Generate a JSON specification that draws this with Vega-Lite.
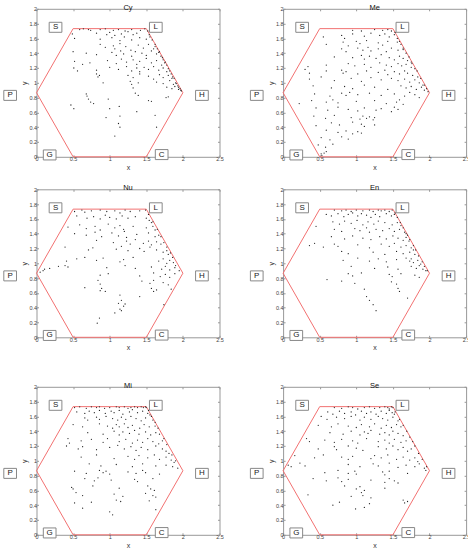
{
"$schema":"https://vega.github.io/schema/vega-lite/v6.json",
"autosize":{"type":"pad"},
"padding":{"left":0.5,"top":2.8,"right":2,"bottom":0},
"config":{
 "font":"Liberation Sans",
 "view":{"stroke":"#999","strokeWidth":1},
 "axis":{"labelFontSize":5.5,"labelColor":"#444","titleFontSize":7,"titleFontWeight":"normal","titleColor":"#333","tickColor":"#999","tickSize":-2,"labelPadding":2,"titlePadding":1,"grid":false,"domain":false,"labelFlush":false,"labelOverlap":false},
 "title":{"fontSize":7.5,"fontWeight":"normal","color":"#111","frame":"group","offset":-4.5,"baseline":"alphabetic"}
},
"datasets":{
"hex":[{"i":0,"x":0.5,"y":0},{"i":1,"x":1.5,"y":0},{"i":2,"x":2,"y":0.866},{"i":3,"x":1.5,"y":1.732},{"i":4,"x":0.5,"y":1.732},{"i":5,"x":0,"y":0.866},{"i":6,"x":0.5,"y":0}],
"lab":[{"t":"S","x":0.26,"y":1.75},{"t":"L","x":1.63,"y":1.75},{"t":"P","x":-0.36,"y":0.83},{"t":"H","x":2.26,"y":0.83},{"t":"G","x":0.18,"y":0.025},{"t":"C","x":1.71,"y":0.03}],
"cy":[{"x":0.59,"y":1.72},{"x":0.64,"y":1.73},{"x":0.71,"y":1.72},{"x":0.74,"y":1.71},{"x":0.87,"y":1.72},{"x":0.94,"y":1.73},{"x":1.05,"y":1.71},{"x":1.12,"y":1.72},{"x":1.21,"y":1.70},{"x":1.30,"y":1.72},{"x":1.42,"y":1.71},{"x":1.48,"y":1.73},
{"x":0.49,"y":1.66},{"x":0.82,"y":1.67},{"x":0.96,"y":1.65},{"x":1.0,"y":1.68},{"x":1.07,"y":1.64},{"x":1.16,"y":1.66},{"x":1.25,"y":1.69},{"x":1.32,"y":1.65},{"x":1.37,"y":1.67},
{"x":0.52,"y":1.60},{"x":0.87,"y":1.59},{"x":1.03,"y":1.61},{"x":1.14,"y":1.57},{"x":1.2,"y":1.62},{"x":1.3,"y":1.58},{"x":1.41,"y":1.61},{"x":1.5,"y":1.59},{"x":1.55,"y":1.62},
{"x":0.87,"y":1.52},{"x":0.94,"y":1.48},{"x":1.05,"y":1.5},{"x":1.07,"y":1.46},{"x":1.14,"y":1.53},{"x":1.22,"y":1.49},{"x":1.29,"y":1.44},{"x":1.39,"y":1.51},{"x":1.46,"y":1.47},{"x":1.53,"y":1.52},{"x":1.6,"y":1.46},{"x":1.62,"y":1.49},
{"x":0.5,"y":1.42},{"x":0.68,"y":1.4},{"x":0.82,"y":1.38},{"x":1.03,"y":1.41},{"x":1.09,"y":1.37},{"x":1.15,"y":1.43},{"x":1.19,"y":1.39},{"x":1.3,"y":1.36},{"x":1.35,"y":1.42},{"x":1.44,"y":1.4},{"x":1.5,"y":1.37},{"x":1.57,"y":1.43},{"x":1.64,"y":1.39},{"x":1.67,"y":1.41},{"x":1.7,"y":1.36},
{"x":0.52,"y":1.29},{"x":0.63,"y":1.25},{"x":0.73,"y":1.27},{"x":0.97,"y":1.3},{"x":1.09,"y":1.26},{"x":1.16,"y":1.32},{"x":1.23,"y":1.28},{"x":1.32,"y":1.31},{"x":1.37,"y":1.25},{"x":1.41,"y":1.29},{"x":1.5,"y":1.33},{"x":1.57,"y":1.27},{"x":1.64,"y":1.3},{"x":1.71,"y":1.24},{"x":1.73,"y":1.31},{"x":1.75,"y":1.27},
{"x":0.51,"y":1.2},{"x":0.56,"y":1.16},{"x":0.82,"y":1.17},{"x":1.0,"y":1.21},{"x":1.12,"y":1.18},{"x":1.23,"y":1.22},{"x":1.3,"y":1.16},{"x":1.37,"y":1.2},{"x":1.41,"y":1.15},{"x":1.47,"y":1.21},{"x":1.53,"y":1.18},{"x":1.6,"y":1.22},{"x":1.67,"y":1.17},{"x":1.73,"y":1.2},{"x":1.78,"y":1.15},{"x":1.8,"y":1.19},
{"x":0.82,"y":1.12},{"x":0.84,"y":1.08},{"x":0.86,"y":1.1},{"x":1.25,"y":1.1},{"x":1.32,"y":1.07},{"x":1.41,"y":1.12},{"x":1.53,"y":1.09},{"x":1.6,"y":1.05},{"x":1.68,"y":1.11},{"x":1.73,"y":1.07},{"x":1.8,"y":1.1},{"x":1.85,"y":1.06},{"x":1.86,"y":1.08},
{"x":0.91,"y":1.0},{"x":1.28,"y":1.02},{"x":1.3,"y":0.98},{"x":1.39,"y":1.0},{"x":1.64,"y":1.01},{"x":1.73,"y":0.99},{"x":1.82,"y":1.03},{"x":1.87,"y":0.98},{"x":1.9,"y":1.0},{"x":1.93,"y":0.96},
{"x":1.32,"y":0.93},{"x":1.78,"y":0.94},{"x":1.85,"y":0.92},{"x":1.89,"y":0.95},{"x":1.94,"y":0.91},{"x":1.97,"y":0.9},
{"x":0.68,"y":0.85},{"x":0.69,"y":0.82},{"x":1.35,"y":0.86},{"x":1.39,"y":0.83},{"x":1.77,"y":0.8},{"x":1.8,"y":0.81},
{"x":0.71,"y":0.78},{"x":0.74,"y":0.74},{"x":0.78,"y":0.72},{"x":0.98,"y":0.78},{"x":1.53,"y":0.76},{"x":1.57,"y":0.75},
{"x":0.47,"y":0.7},{"x":0.51,"y":0.65},{"x":1.0,"y":0.65},{"x":1.13,"y":0.68},{"x":1.37,"y":0.61},
{"x":0.95,"y":0.53},{"x":1.14,"y":0.55},{"x":1.62,"y":0.56},{"x":1.12,"y":0.45},{"x":1.14,"y":0.4},{"x":1.64,"y":0.4},{"x":1.07,"y":0.28},
{"x":1.52,"y":1.70},{"x":1.54,"y":1.65},{"x":1.58,"y":1.58},{"x":1.62,"y":1.52},{"x":1.65,"y":1.46},{"x":1.68,"y":1.42},{"x":1.72,"y":1.34},{"x":1.76,"y":1.28},{"x":1.78,"y":1.24},{"x":1.82,"y":1.16},{"x":1.84,"y":1.12},{"x":1.88,"y":1.06},{"x":1.91,"y":0.99},{"x":1.94,"y":0.94},{"x":1.96,"y":0.92},{"x":1.98,"y":0.89}],
"me":[{"x":0.95,"y":1.71},{"x":1.07,"y":1.70},{"x":1.25,"y":1.72},{"x":1.36,"y":1.71},{"x":1.43,"y":1.72},{"x":1.48,"y":1.70},
{"x":0.55,"y":1.62},{"x":0.8,"y":1.64},{"x":0.84,"y":1.60},{"x":0.95,"y":1.66},{"x":1.11,"y":1.63},{"x":1.2,"y":1.67},{"x":1.32,"y":1.64},{"x":1.39,"y":1.66},{"x":1.45,"y":1.62},{"x":1.52,"y":1.65},{"x":1.56,"y":1.6},
{"x":0.59,"y":1.52},{"x":0.82,"y":1.55},{"x":0.89,"y":1.5},{"x":1.0,"y":1.56},{"x":1.05,"y":1.53},{"x":1.14,"y":1.57},{"x":1.3,"y":1.54},{"x":1.36,"y":1.51},{"x":1.43,"y":1.56},{"x":1.56,"y":1.55},{"x":1.61,"y":1.52},
{"x":0.8,"y":1.46},{"x":0.86,"y":1.42},{"x":1.02,"y":1.47},{"x":1.09,"y":1.44},{"x":1.16,"y":1.48},{"x":1.2,"y":1.43},{"x":1.3,"y":1.46},{"x":1.41,"y":1.42},{"x":1.48,"y":1.47},{"x":1.57,"y":1.44},{"x":1.64,"y":1.45},{"x":1.68,"y":1.40},
{"x":0.7,"y":1.35},{"x":0.95,"y":1.34},{"x":1.07,"y":1.37},{"x":1.11,"y":1.32},{"x":1.18,"y":1.36},{"x":1.27,"y":1.33},{"x":1.34,"y":1.38},{"x":1.45,"y":1.34},{"x":1.52,"y":1.31},{"x":1.59,"y":1.36},{"x":1.64,"y":1.33},{"x":1.7,"y":1.3},{"x":1.75,"y":1.28},
{"x":0.34,"y":1.22},{"x":0.59,"y":1.24},{"x":0.89,"y":1.26},{"x":0.98,"y":1.23},{"x":1.11,"y":1.25},{"x":1.2,"y":1.21},{"x":1.32,"y":1.27},{"x":1.41,"y":1.24},{"x":1.48,"y":1.22},{"x":1.57,"y":1.26},{"x":1.62,"y":1.23},{"x":1.68,"y":1.25},{"x":1.75,"y":1.21},{"x":1.8,"y":1.19},
{"x":0.3,"y":1.18},{"x":0.36,"y":1.13},{"x":0.59,"y":1.16},{"x":0.8,"y":1.17},{"x":0.82,"y":1.13},{"x":0.86,"y":1.15},{"x":1.02,"y":1.12},{"x":1.14,"y":1.16},{"x":1.3,"y":1.14},{"x":1.39,"y":1.17},{"x":1.43,"y":1.11},{"x":1.52,"y":1.15},{"x":1.59,"y":1.12},{"x":1.66,"y":1.16},{"x":1.7,"y":1.13},{"x":1.77,"y":1.1},{"x":1.84,"y":1.08},
{"x":0.36,"y":1.05},{"x":0.52,"y":1.08},{"x":0.7,"y":1.03},{"x":0.93,"y":1.06},{"x":1.07,"y":1.02},{"x":1.2,"y":1.07},{"x":1.34,"y":1.04},{"x":1.48,"y":1.06},{"x":1.57,"y":1.03},{"x":1.66,"y":1.05},{"x":1.73,"y":1.01},{"x":1.8,"y":1.04},{"x":1.86,"y":1.0},{"x":1.91,"y":0.97},
{"x":0.41,"y":0.96},{"x":0.66,"y":0.93},{"x":0.84,"y":0.95},{"x":0.95,"y":0.92},{"x":1.11,"y":0.97},{"x":1.25,"y":0.94},{"x":1.43,"y":0.91},{"x":1.61,"y":0.96},{"x":1.68,"y":0.93},{"x":1.75,"y":0.95},{"x":1.82,"y":0.91},{"x":1.89,"y":0.94},{"x":1.93,"y":0.9},{"x":1.98,"y":0.88},
{"x":0.43,"y":0.85},{"x":0.64,"y":0.82},{"x":0.8,"y":0.86},{"x":0.86,"y":0.83},{"x":0.91,"y":0.87},{"x":1.02,"y":0.84},{"x":1.18,"y":0.86},{"x":1.34,"y":0.83},{"x":1.52,"y":0.85},{"x":1.66,"y":0.82},{"x":1.73,"y":0.87},{"x":1.8,"y":0.84},{"x":1.86,"y":0.8},
{"x":0.22,"y":0.72},{"x":0.39,"y":0.76},{"x":0.59,"y":0.74},{"x":0.68,"y":0.77},{"x":0.75,"y":0.73},{"x":1.0,"y":0.75},{"x":1.25,"y":0.76},{"x":1.41,"y":0.72},{"x":1.55,"y":0.74},{"x":1.59,"y":0.77},{"x":1.64,"y":0.71},
{"x":0.45,"y":0.66},{"x":0.61,"y":0.63},{"x":0.75,"y":0.67},{"x":0.89,"y":0.64},{"x":1.02,"y":0.62},{"x":1.11,"y":0.66},{"x":1.27,"y":0.63},{"x":1.34,"y":0.65},{"x":1.48,"y":0.61},{"x":1.52,"y":0.67},{"x":1.57,"y":0.64},
{"x":0.42,"y":0.55},{"x":0.58,"y":0.52},{"x":0.7,"y":0.56},{"x":0.93,"y":0.53},{"x":1.05,"y":0.51},{"x":1.09,"y":0.55},{"x":1.14,"y":0.52},{"x":1.18,"y":0.54},{"x":1.23,"y":0.5},{"x":1.25,"y":0.53},
{"x":0.45,"y":0.42},{"x":0.66,"y":0.46},{"x":0.77,"y":0.43},{"x":0.95,"y":0.47},{"x":1.07,"y":0.44},{"x":1.11,"y":0.41},{"x":1.25,"y":0.43},
{"x":0.59,"y":0.36},{"x":0.75,"y":0.33},{"x":0.86,"y":0.35},{"x":0.95,"y":0.31},{"x":1.02,"y":0.34},{"x":1.07,"y":0.32},
{"x":0.52,"y":0.26},{"x":0.64,"y":0.23},{"x":0.8,"y":0.27},{"x":0.89,"y":0.24},
{"x":0.48,"y":0.16},{"x":0.58,"y":0.13},{"x":0.68,"y":0.17},
{"x":0.52,"y":0.04},{"x":0.53,"y":0.02},{"x":0.56,"y":0.05},{"x":0.59,"y":0.07},
{"x":1.53,"y":1.68},{"x":1.59,"y":1.56},{"x":1.64,"y":1.47},{"x":1.72,"y":1.35},{"x":1.76,"y":1.26},{"x":1.83,"y":1.16},{"x":1.88,"y":1.06},{"x":1.93,"y":0.97},{"x":1.96,"y":0.92}],
"nu":[{"x":0.52,"y":1.70},{"x":0.62,"y":1.72},{"x":0.66,"y":1.69},{"x":0.75,"y":1.71},{"x":0.87,"y":1.72},{"x":0.96,"y":1.70},{"x":1.07,"y":1.71},{"x":1.14,"y":1.68},{"x":1.21,"y":1.72},{"x":1.28,"y":1.70},{"x":1.41,"y":1.71},{"x":1.49,"y":1.72},
{"x":0.55,"y":1.64},{"x":0.69,"y":1.61},{"x":0.78,"y":1.63},{"x":0.87,"y":1.6},{"x":0.94,"y":1.65},{"x":1.0,"y":1.62},{"x":1.09,"y":1.6},{"x":1.17,"y":1.64},{"x":1.25,"y":1.61},{"x":1.35,"y":1.63},{"x":1.5,"y":1.61},{"x":1.54,"y":1.58},{"x":1.57,"y":1.55},
{"x":0.43,"y":1.49},{"x":0.59,"y":1.52},{"x":0.68,"y":1.47},{"x":0.8,"y":1.5},{"x":0.87,"y":1.45},{"x":0.98,"y":1.53},{"x":1.07,"y":1.48},{"x":1.14,"y":1.51},{"x":1.19,"y":1.46},{"x":1.32,"y":1.5},{"x":1.5,"y":1.48},{"x":1.59,"y":1.5},{"x":1.62,"y":1.45},
{"x":0.52,"y":1.4},{"x":0.68,"y":1.38},{"x":0.8,"y":1.42},{"x":0.89,"y":1.36},{"x":1.03,"y":1.41},{"x":1.12,"y":1.37},{"x":1.2,"y":1.43},{"x":1.23,"y":1.35},{"x":1.37,"y":1.39},{"x":1.53,"y":1.41},{"x":1.62,"y":1.36},{"x":1.67,"y":1.38},
{"x":0.82,"y":1.31},{"x":1.05,"y":1.28},{"x":1.23,"y":1.3},{"x":1.28,"y":1.26},{"x":1.35,"y":1.32},{"x":1.46,"y":1.27},{"x":1.53,"y":1.3},{"x":1.57,"y":1.25},{"x":1.64,"y":1.29},{"x":1.7,"y":1.26},{"x":1.74,"y":1.28},
{"x":0.39,"y":1.22},{"x":0.71,"y":1.18},{"x":0.77,"y":1.21},{"x":1.09,"y":1.19},{"x":1.16,"y":1.23},{"x":1.25,"y":1.17},{"x":1.41,"y":1.2},{"x":1.47,"y":1.16},{"x":1.55,"y":1.22},{"x":1.64,"y":1.18},{"x":1.73,"y":1.15},{"x":1.78,"y":1.17},{"x":1.8,"y":1.12},
{"x":0.41,"y":1.03},{"x":0.55,"y":1.06},{"x":0.66,"y":1.08},{"x":0.82,"y":1.04},{"x":0.91,"y":1.07},{"x":1.14,"y":1.02},{"x":1.19,"y":1.05},{"x":1.32,"y":1.08},{"x":1.67,"y":1.03},{"x":1.73,"y":1.06},{"x":1.78,"y":1.0},{"x":1.82,"y":1.04},{"x":1.87,"y":1.01},{"x":1.9,"y":0.97},
{"x":0.11,"y":0.92},{"x":0.18,"y":0.93},{"x":0.3,"y":0.96},{"x":0.39,"y":0.97},{"x":0.43,"y":0.95},{"x":0.96,"y":0.94},{"x":1.21,"y":0.97},{"x":1.35,"y":0.93},{"x":1.57,"y":0.95},{"x":1.71,"y":0.92},{"x":1.76,"y":0.96},{"x":1.82,"y":0.91},{"x":1.89,"y":0.94},{"x":1.95,"y":0.9},
{"x":0.05,"y":0.88},{"x":0.09,"y":0.9},{"x":0.87,"y":0.84},{"x":0.98,"y":0.86},{"x":1.41,"y":0.83},{"x":1.6,"y":0.87},{"x":1.69,"y":0.82},{"x":1.76,"y":0.85},{"x":1.82,"y":0.81},{"x":1.89,"y":0.86},
{"x":0.84,"y":0.77},{"x":0.87,"y":0.72},{"x":1.44,"y":0.76},{"x":1.55,"y":0.73},{"x":1.6,"y":0.77},{"x":1.73,"y":0.74},{"x":1.8,"y":0.71},
{"x":0.66,"y":0.67},{"x":0.87,"y":0.63},{"x":0.89,"y":0.66},{"x":0.94,"y":0.62},{"x":1.57,"y":0.66},{"x":1.6,"y":0.62},{"x":1.64,"y":0.64},{"x":1.84,"y":0.65},
{"x":1.14,"y":0.57},{"x":1.41,"y":0.55},
{"x":1.12,"y":0.46},{"x":1.16,"y":0.5},{"x":1.19,"y":0.42},{"x":1.21,"y":0.45},{"x":1.74,"y":0.44},
{"x":1.14,"y":0.38},{"x":1.07,"y":0.33},{"x":1.16,"y":0.36},
{"x":0.86,"y":0.26},{"x":0.83,"y":0.19},
{"x":1.53,"y":1.66},{"x":1.59,"y":1.56},{"x":1.65,"y":1.46},{"x":1.7,"y":1.36},{"x":1.78,"y":1.22},{"x":1.83,"y":1.14},{"x":1.86,"y":1.08}],
"en":[{"x":0.7,"y":1.72},{"x":0.8,"y":1.71},{"x":0.86,"y":1.72},{"x":0.93,"y":1.70},{"x":1.0,"y":1.72},{"x":1.09,"y":1.71},{"x":1.18,"y":1.72},{"x":1.23,"y":1.70},{"x":1.3,"y":1.72},{"x":1.34,"y":1.71},{"x":1.39,"y":1.72},{"x":1.45,"y":1.70},{"x":1.49,"y":1.72},
{"x":0.59,"y":1.66},{"x":0.66,"y":1.64},{"x":0.75,"y":1.67},{"x":0.83,"y":1.63},{"x":0.89,"y":1.66},{"x":0.95,"y":1.68},{"x":1.02,"y":1.64},{"x":1.07,"y":1.67},{"x":1.14,"y":1.65},{"x":1.2,"y":1.62},{"x":1.26,"y":1.66},{"x":1.32,"y":1.63},{"x":1.41,"y":1.67},{"x":1.48,"y":1.64},{"x":1.52,"y":1.66},
{"x":0.45,"y":1.5},{"x":0.68,"y":1.56},{"x":0.77,"y":1.53},{"x":0.84,"y":1.57},{"x":0.93,"y":1.54},{"x":1.01,"y":1.58},{"x":1.09,"y":1.52},{"x":1.16,"y":1.56},{"x":1.24,"y":1.53},{"x":1.3,"y":1.57},{"x":1.39,"y":1.55},{"x":1.49,"y":1.52},{"x":1.56,"y":1.55},{"x":1.61,"y":1.51},
{"x":0.7,"y":1.46},{"x":0.8,"y":1.43},{"x":0.98,"y":1.47},{"x":1.05,"y":1.44},{"x":1.14,"y":1.48},{"x":1.18,"y":1.42},{"x":1.27,"y":1.46},{"x":1.36,"y":1.44},{"x":1.45,"y":1.47},{"x":1.52,"y":1.43},{"x":1.59,"y":1.46},{"x":1.66,"y":1.42},{"x":1.68,"y":1.40},
{"x":0.66,"y":1.36},{"x":0.84,"y":1.33},{"x":0.95,"y":1.37},{"x":1.09,"y":1.34},{"x":1.2,"y":1.32},{"x":1.32,"y":1.36},{"x":1.41,"y":1.33},{"x":1.5,"y":1.37},{"x":1.57,"y":1.34},{"x":1.64,"y":1.31},{"x":1.68,"y":1.35},{"x":1.72,"y":1.3},
{"x":0.36,"y":1.24},{"x":0.43,"y":1.27},{"x":0.55,"y":1.22},{"x":0.7,"y":1.26},{"x":0.75,"y":1.23},{"x":1.02,"y":1.25},{"x":1.18,"y":1.21},{"x":1.34,"y":1.26},{"x":1.45,"y":1.23},{"x":1.52,"y":1.27},{"x":1.61,"y":1.22},{"x":1.68,"y":1.24},{"x":1.75,"y":1.21},{"x":1.78,"y":1.18},
{"x":0.8,"y":1.16},{"x":0.89,"y":1.13},{"x":1.23,"y":1.15},{"x":1.39,"y":1.12},{"x":1.55,"y":1.16},{"x":1.64,"y":1.13},{"x":1.73,"y":1.15},{"x":1.8,"y":1.12},
{"x":0.82,"y":1.04},{"x":1.02,"y":1.07},{"x":1.18,"y":1.03},{"x":1.3,"y":1.06},{"x":1.41,"y":1.02},{"x":1.55,"y":1.05},{"x":1.68,"y":1.07},{"x":1.73,"y":1.03},{"x":1.75,"y":1.06},{"x":1.78,"y":1.01},{"x":1.84,"y":1.04},{"x":1.88,"y":0.99},
{"x":0.93,"y":0.96},{"x":1.25,"y":0.93},{"x":1.43,"y":0.95},{"x":1.57,"y":0.92},{"x":1.75,"y":0.96},{"x":1.82,"y":0.93},{"x":1.86,"y":0.97},{"x":1.91,"y":0.92},{"x":1.95,"y":0.9},
{"x":0.89,"y":0.86},{"x":0.95,"y":0.83},{"x":1.07,"y":0.87},{"x":1.45,"y":0.85},{"x":1.49,"y":0.82},{"x":1.61,"y":0.86},{"x":1.8,"y":0.84},{"x":1.86,"y":0.81},
{"x":0.6,"y":0.78},{"x":0.8,"y":0.76},{"x":0.98,"y":0.73},{"x":1.48,"y":0.75},{"x":1.55,"y":0.72},
{"x":1.11,"y":0.65},{"x":1.57,"y":0.66},{"x":1.59,"y":0.62},
{"x":1.14,"y":0.55},{"x":1.7,"y":0.53},
{"x":1.18,"y":0.5},{"x":1.23,"y":0.44},{"x":1.27,"y":0.36},
{"x":1.53,"y":1.68},{"x":1.56,"y":1.62},{"x":1.6,"y":1.55},{"x":1.64,"y":1.48},{"x":1.7,"y":1.38},{"x":1.73,"y":1.32},{"x":1.78,"y":1.24},{"x":1.81,"y":1.18},{"x":1.85,"y":1.1},{"x":1.9,"y":1.02},{"x":1.93,"y":0.96},{"x":1.97,"y":0.9}],
"mi":[{"x":0.52,"y":1.72},{"x":0.59,"y":1.73},{"x":0.68,"y":1.71},{"x":0.75,"y":1.73},{"x":0.82,"y":1.72},{"x":0.86,"y":1.73},{"x":0.93,"y":1.71},{"x":1.0,"y":1.72},{"x":1.09,"y":1.73},{"x":1.13,"y":1.72},{"x":1.2,"y":1.73},{"x":1.25,"y":1.71},{"x":1.29,"y":1.72},{"x":1.34,"y":1.73},{"x":1.38,"y":1.72},{"x":1.43,"y":1.73},{"x":1.46,"y":1.72},{"x":1.49,"y":1.73},{"x":1.5,"y":1.72},
{"x":0.55,"y":1.66},{"x":0.66,"y":1.64},{"x":0.72,"y":1.67},{"x":0.79,"y":1.65},{"x":0.86,"y":1.68},{"x":0.94,"y":1.64},{"x":1.02,"y":1.67},{"x":1.06,"y":1.65},{"x":1.13,"y":1.68},{"x":1.18,"y":1.63},{"x":1.27,"y":1.66},{"x":1.31,"y":1.69},{"x":1.38,"y":1.65},{"x":1.45,"y":1.67},{"x":1.52,"y":1.64},{"x":1.55,"y":1.62},
{"x":0.66,"y":1.58},{"x":0.7,"y":1.55},{"x":0.82,"y":1.59},{"x":0.86,"y":1.56},{"x":0.95,"y":1.6},{"x":1.04,"y":1.57},{"x":1.11,"y":1.55},{"x":1.16,"y":1.59},{"x":1.22,"y":1.56},{"x":1.29,"y":1.6},{"x":1.36,"y":1.57},{"x":1.43,"y":1.54},{"x":1.49,"y":1.58},{"x":1.59,"y":1.55},
{"x":0.5,"y":1.49},{"x":0.63,"y":1.46},{"x":0.86,"y":1.5},{"x":0.97,"y":1.47},{"x":1.04,"y":1.44},{"x":1.09,"y":1.49},{"x":1.13,"y":1.46},{"x":1.2,"y":1.5},{"x":1.25,"y":1.45},{"x":1.31,"y":1.48},{"x":1.41,"y":1.44},{"x":1.47,"y":1.49},{"x":1.54,"y":1.46},{"x":1.62,"y":1.47},
{"x":0.7,"y":1.38},{"x":0.91,"y":1.36},{"x":1.06,"y":1.4},{"x":1.13,"y":1.35},{"x":1.18,"y":1.39},{"x":1.27,"y":1.37},{"x":1.34,"y":1.41},{"x":1.4,"y":1.36},{"x":1.49,"y":1.39},{"x":1.56,"y":1.35},{"x":1.63,"y":1.38},{"x":1.68,"y":1.36},
{"x":0.43,"y":1.3},{"x":0.45,"y":1.24},{"x":0.61,"y":1.27},{"x":0.75,"y":1.29},{"x":0.91,"y":1.25},{"x":0.97,"y":1.3},{"x":1.13,"y":1.26},{"x":1.22,"y":1.29},{"x":1.31,"y":1.24},{"x":1.38,"y":1.28},{"x":1.45,"y":1.25},{"x":1.52,"y":1.3},{"x":1.59,"y":1.26},{"x":1.67,"y":1.23},{"x":1.72,"y":1.27},
{"x":0.41,"y":1.2},{"x":0.57,"y":1.16},{"x":0.63,"y":1.19},{"x":0.82,"y":1.15},{"x":1.0,"y":1.18},{"x":1.11,"y":1.21},{"x":1.2,"y":1.16},{"x":1.29,"y":1.19},{"x":1.36,"y":1.14},{"x":1.43,"y":1.18},{"x":1.52,"y":1.15},{"x":1.63,"y":1.2},{"x":1.72,"y":1.16},{"x":1.77,"y":1.13},{"x":1.81,"y":1.1},
{"x":0.61,"y":1.05},{"x":0.82,"y":1.08},{"x":1.06,"y":1.03},{"x":1.25,"y":1.06},{"x":1.34,"y":1.02},{"x":1.4,"y":1.07},{"x":1.52,"y":1.04},{"x":1.61,"y":1.08},{"x":1.68,"y":1.02},{"x":1.77,"y":1.05},{"x":1.84,"y":1.01},{"x":1.88,"y":0.98},
{"x":0.72,"y":0.96},{"x":0.88,"y":0.93},{"x":1.09,"y":0.95},{"x":1.31,"y":0.92},{"x":1.45,"y":0.96},{"x":1.63,"y":0.93},{"x":1.77,"y":0.94},{"x":1.86,"y":0.92},{"x":1.93,"y":0.9},
{"x":0.52,"y":0.86},{"x":0.68,"y":0.83},{"x":0.86,"y":0.87},{"x":0.91,"y":0.84},{"x":0.95,"y":0.86},{"x":1.0,"y":0.82},{"x":1.25,"y":0.85},{"x":1.36,"y":0.83},{"x":1.45,"y":0.87},{"x":1.49,"y":0.84},{"x":1.68,"y":0.82},
{"x":0.66,"y":0.76},{"x":0.79,"y":0.73},{"x":0.84,"y":0.77},{"x":1.02,"y":0.74},{"x":1.34,"y":0.75},{"x":1.38,"y":0.72},{"x":1.59,"y":0.76},
{"x":0.48,"y":0.64},{"x":0.5,"y":0.62},{"x":0.77,"y":0.66},{"x":1.13,"y":0.63},{"x":1.52,"y":0.66},{"x":1.56,"y":0.62},{"x":1.61,"y":0.6},
{"x":0.54,"y":0.57},{"x":0.63,"y":0.53},{"x":1.06,"y":0.55},{"x":1.18,"y":0.52},{"x":1.49,"y":0.56},{"x":1.59,"y":0.53},{"x":1.63,"y":0.51},
{"x":0.52,"y":0.43},{"x":0.75,"y":0.44},{"x":1.09,"y":0.47},{"x":1.15,"y":0.45},{"x":1.54,"y":0.46},
{"x":0.63,"y":0.36},{"x":1.63,"y":0.34},{"x":1.0,"y":0.31},{"x":1.04,"y":0.27},
{"x":1.53,"y":1.68},{"x":1.57,"y":1.6},{"x":1.62,"y":1.52},{"x":1.66,"y":1.44},{"x":1.74,"y":1.3},{"x":1.78,"y":1.22},{"x":1.85,"y":1.08},{"x":1.9,"y":1.0}],
"se":[{"x":0.7,"y":1.72},{"x":0.8,"y":1.71},{"x":0.89,"y":1.73},{"x":0.95,"y":1.72},{"x":1.02,"y":1.70},{"x":1.11,"y":1.72},{"x":1.18,"y":1.73},{"x":1.25,"y":1.71},{"x":1.32,"y":1.72},{"x":1.39,"y":1.73},{"x":1.43,"y":1.72},{"x":1.45,"y":1.70},{"x":1.48,"y":1.73},{"x":1.5,"y":1.72},
{"x":0.61,"y":1.66},{"x":0.68,"y":1.63},{"x":0.77,"y":1.67},{"x":0.84,"y":1.64},{"x":0.93,"y":1.66},{"x":0.99,"y":1.62},{"x":1.07,"y":1.67},{"x":1.14,"y":1.64},{"x":1.2,"y":1.66},{"x":1.27,"y":1.63},{"x":1.34,"y":1.67},{"x":1.41,"y":1.64},{"x":1.45,"y":1.68},{"x":1.49,"y":1.65},{"x":1.52,"y":1.63},
{"x":0.52,"y":1.6},{"x":0.6,"y":1.56},{"x":0.73,"y":1.59},{"x":0.84,"y":1.57},{"x":0.93,"y":1.6},{"x":1.05,"y":1.55},{"x":1.11,"y":1.59},{"x":1.2,"y":1.56},{"x":1.3,"y":1.6},{"x":1.36,"y":1.57},{"x":1.43,"y":1.55},{"x":1.5,"y":1.59},{"x":1.57,"y":1.54},
{"x":0.48,"y":1.48},{"x":0.66,"y":1.46},{"x":0.75,"y":1.5},{"x":0.89,"y":1.47},{"x":1.0,"y":1.45},{"x":1.07,"y":1.49},{"x":1.18,"y":1.46},{"x":1.25,"y":1.5},{"x":1.34,"y":1.44},{"x":1.41,"y":1.48},{"x":1.48,"y":1.45},{"x":1.55,"y":1.49},{"x":1.61,"y":1.46},
{"x":0.64,"y":1.38},{"x":0.82,"y":1.36},{"x":0.93,"y":1.4},{"x":1.05,"y":1.35},{"x":1.11,"y":1.39},{"x":1.16,"y":1.37},{"x":1.2,"y":1.41},{"x":1.32,"y":1.36},{"x":1.39,"y":1.38},{"x":1.45,"y":1.35},{"x":1.5,"y":1.4},{"x":1.57,"y":1.37},{"x":1.64,"y":1.34},
{"x":0.32,"y":1.3},{"x":0.36,"y":1.26},{"x":0.57,"y":1.28},{"x":0.7,"y":1.25},{"x":0.8,"y":1.29},{"x":0.95,"y":1.27},{"x":1.02,"y":1.24},{"x":1.14,"y":1.3},{"x":1.3,"y":1.26},{"x":1.39,"y":1.28},{"x":1.45,"y":1.24},{"x":1.52,"y":1.29},{"x":1.61,"y":1.25},{"x":1.68,"y":1.27},
{"x":0.48,"y":1.16},{"x":0.7,"y":1.19},{"x":0.73,"y":1.15},{"x":0.89,"y":1.2},{"x":1.0,"y":1.17},{"x":1.09,"y":1.14},{"x":1.3,"y":1.19},{"x":1.41,"y":1.16},{"x":1.5,"y":1.2},{"x":1.57,"y":1.15},{"x":1.64,"y":1.18},{"x":1.7,"y":1.13},{"x":1.75,"y":1.16},
{"x":0.16,"y":1.07},{"x":0.43,"y":1.04},{"x":0.55,"y":1.08},{"x":0.8,"y":1.05},{"x":0.89,"y":1.02},{"x":0.95,"y":1.06},{"x":1.2,"y":1.03},{"x":1.25,"y":1.07},{"x":1.34,"y":1.04},{"x":1.43,"y":1.08},{"x":1.55,"y":1.02},{"x":1.64,"y":1.05},{"x":1.73,"y":1.01},{"x":1.8,"y":1.04},{"x":1.84,"y":0.99},
{"x":0.07,"y":0.94},{"x":0.11,"y":0.92},{"x":0.23,"y":0.97},{"x":0.3,"y":0.93},{"x":0.89,"y":0.95},{"x":1.05,"y":0.92},{"x":1.23,"y":0.96},{"x":1.3,"y":0.93},{"x":1.45,"y":0.97},{"x":1.57,"y":0.91},{"x":1.68,"y":0.94},{"x":1.8,"y":0.92},{"x":1.86,"y":0.96},{"x":1.93,"y":0.9},
{"x":0.57,"y":0.84},{"x":0.75,"y":0.87},{"x":0.89,"y":0.83},{"x":0.98,"y":0.86},{"x":1.0,"y":0.82},{"x":1.36,"y":0.85},{"x":1.39,"y":0.81},{"x":1.45,"y":0.86},{"x":1.7,"y":0.83},{"x":1.95,"y":0.87},
{"x":0.41,"y":0.76},{"x":0.59,"y":0.73},{"x":0.75,"y":0.77},{"x":0.8,"y":0.72},{"x":0.89,"y":0.75},{"x":1.2,"y":0.74},{"x":1.39,"y":0.71},{"x":1.45,"y":0.76},{"x":1.52,"y":0.73},{"x":1.57,"y":0.7},
{"x":0.84,"y":0.66},{"x":1.0,"y":0.62},{"x":1.05,"y":0.65},{"x":1.11,"y":0.6},{"x":1.39,"y":0.63},
{"x":0.34,"y":0.54},{"x":0.93,"y":0.52},{"x":1.07,"y":0.57},{"x":1.09,"y":0.53},{"x":1.2,"y":0.5},
{"x":0.77,"y":0.44},{"x":1.18,"y":0.42},{"x":1.64,"y":0.47},{"x":1.66,"y":0.43},{"x":1.7,"y":0.45},
{"x":0.68,"y":0.4},{"x":0.99,"y":0.35},{"x":1.11,"y":0.37},
{"x":1.53,"y":1.66},{"x":1.59,"y":1.56},{"x":1.64,"y":1.48},{"x":1.69,"y":1.4},{"x":1.73,"y":1.32},{"x":1.77,"y":1.26},{"x":1.8,"y":1.2},{"x":1.85,"y":1.1},{"x":1.9,"y":1.02},{"x":1.96,"y":0.92}]
},
"vconcat":[
 {"vconcat":[
  {"hconcat":[
   {"width":183,"height":148,"title":{"text":"Cy"},"resolve":{"axis":{"x":"independent","y":"independent"}},"layer":[
    {"data":{"name":"hex"},"mark":{"type":"line","color":"#f27070","strokeWidth":1},"encoding":{"x":{"field":"x","type":"quantitative","scale":{"domain":[0,2.5],"nice":false,"zero":false},"axis":{"orient":"bottom","values":[0,0.5,1,1.5,2,2.5],"format":"~g","title":"x"}},"y":{"field":"y","type":"quantitative","scale":{"domain":[0,2],"nice":false,"zero":false},"axis":{"orient":"left","values":[0,0.2,0.4,0.6,0.8,1,1.2,1.4,1.6,1.8,2],"format":"~g","title":"y"}},"order":{"field":"i"}}},
    {"data":{"name":"cy"},"mark":{"type":"point","shape":"circle","filled":true,"size":1.6,"color":"#222","opacity":1},"encoding":{"x":{"field":"x","type":"quantitative","axis":{"orient":"top","values":[0,0.5,1,1.5,2,2.5],"labels":false,"title":null}},"y":{"field":"y","type":"quantitative","axis":{"orient":"right","values":[0,0.2,0.4,0.6,0.8,1,1.2,1.4,1.6,1.8,2],"labels":false,"title":null}}}},
    {"data":{"name":"lab"},"mark":{"type":"point","shape":"M-1.27,-1H1.27V1H-1.27Z","size":100,"filled":true,"fill":"#fff","stroke":"#888","strokeWidth":1,"opacity":1},"encoding":{"x":{"field":"x","type":"quantitative","axis":null},"y":{"field":"y","type":"quantitative","axis":null}}},
    {"data":{"name":"lab"},"mark":{"type":"text","fontSize":8,"color":"#222","baseline":"middle","align":"center"},"encoding":{"x":{"field":"x","type":"quantitative","axis":null},"y":{"field":"y","type":"quantitative","axis":null},"text":{"field":"t"}}}
   ]},
   {"width":183,"height":148,"title":{"text":"Me"},"resolve":{"axis":{"x":"independent","y":"independent"}},"layer":[
    {"data":{"name":"hex"},"mark":{"type":"line","color":"#f27070","strokeWidth":1},"encoding":{"x":{"field":"x","type":"quantitative","scale":{"domain":[0,2.5],"nice":false,"zero":false},"axis":{"orient":"bottom","values":[0,0.5,1,1.5,2,2.5],"format":"~g","title":"x"}},"y":{"field":"y","type":"quantitative","scale":{"domain":[0,2],"nice":false,"zero":false},"axis":{"orient":"left","values":[0,0.2,0.4,0.6,0.8,1,1.2,1.4,1.6,1.8,2],"format":"~g","title":"y"}},"order":{"field":"i"}}},
    {"data":{"name":"me"},"mark":{"type":"point","shape":"circle","filled":true,"size":1.6,"color":"#222","opacity":1},"encoding":{"x":{"field":"x","type":"quantitative","axis":{"orient":"top","values":[0,0.5,1,1.5,2,2.5],"labels":false,"title":null}},"y":{"field":"y","type":"quantitative","axis":{"orient":"right","values":[0,0.2,0.4,0.6,0.8,1,1.2,1.4,1.6,1.8,2],"labels":false,"title":null}}}},
    {"data":{"name":"lab"},"mark":{"type":"point","shape":"M-1.27,-1H1.27V1H-1.27Z","size":100,"filled":true,"fill":"#fff","stroke":"#888","strokeWidth":1,"opacity":1},"encoding":{"x":{"field":"x","type":"quantitative","axis":null},"y":{"field":"y","type":"quantitative","axis":null}}},
    {"data":{"name":"lab"},"mark":{"type":"text","fontSize":8,"color":"#222","baseline":"middle","align":"center"},"encoding":{"x":{"field":"x","type":"quantitative","axis":null},"y":{"field":"y","type":"quantitative","axis":null},"text":{"field":"t"}}}
   ]}
  ],"spacing":22.6},
  {"hconcat":[
   {"width":183,"height":148,"title":{"text":"Nu"},"resolve":{"axis":{"x":"independent","y":"independent"}},"layer":[
    {"data":{"name":"hex"},"mark":{"type":"line","color":"#f27070","strokeWidth":1},"encoding":{"x":{"field":"x","type":"quantitative","scale":{"domain":[0,2.5],"nice":false,"zero":false},"axis":{"orient":"bottom","values":[0,0.5,1,1.5,2,2.5],"format":"~g","title":"x"}},"y":{"field":"y","type":"quantitative","scale":{"domain":[0,2],"nice":false,"zero":false},"axis":{"orient":"left","values":[0,0.2,0.4,0.6,0.8,1,1.2,1.4,1.6,1.8,2],"format":"~g","title":"y"}},"order":{"field":"i"}}},
    {"data":{"name":"nu"},"mark":{"type":"point","shape":"circle","filled":true,"size":1.6,"color":"#222","opacity":1},"encoding":{"x":{"field":"x","type":"quantitative","axis":{"orient":"top","values":[0,0.5,1,1.5,2,2.5],"labels":false,"title":null}},"y":{"field":"y","type":"quantitative","axis":{"orient":"right","values":[0,0.2,0.4,0.6,0.8,1,1.2,1.4,1.6,1.8,2],"labels":false,"title":null}}}},
    {"data":{"name":"lab"},"mark":{"type":"point","shape":"M-1.27,-1H1.27V1H-1.27Z","size":100,"filled":true,"fill":"#fff","stroke":"#888","strokeWidth":1,"opacity":1},"encoding":{"x":{"field":"x","type":"quantitative","axis":null},"y":{"field":"y","type":"quantitative","axis":null}}},
    {"data":{"name":"lab"},"mark":{"type":"text","fontSize":8,"color":"#222","baseline":"middle","align":"center"},"encoding":{"x":{"field":"x","type":"quantitative","axis":null},"y":{"field":"y","type":"quantitative","axis":null},"text":{"field":"t"}}}
   ]},
   {"width":183,"height":148,"title":{"text":"En"},"resolve":{"axis":{"x":"independent","y":"independent"}},"layer":[
    {"data":{"name":"hex"},"mark":{"type":"line","color":"#f27070","strokeWidth":1},"encoding":{"x":{"field":"x","type":"quantitative","scale":{"domain":[0,2.5],"nice":false,"zero":false},"axis":{"orient":"bottom","values":[0,0.5,1,1.5,2,2.5],"format":"~g","title":"x"}},"y":{"field":"y","type":"quantitative","scale":{"domain":[0,2],"nice":false,"zero":false},"axis":{"orient":"left","values":[0,0.2,0.4,0.6,0.8,1,1.2,1.4,1.6,1.8,2],"format":"~g","title":"y"}},"order":{"field":"i"}}},
    {"data":{"name":"en"},"mark":{"type":"point","shape":"circle","filled":true,"size":1.6,"color":"#222","opacity":1},"encoding":{"x":{"field":"x","type":"quantitative","axis":{"orient":"top","values":[0,0.5,1,1.5,2,2.5],"labels":false,"title":null}},"y":{"field":"y","type":"quantitative","axis":{"orient":"right","values":[0,0.2,0.4,0.6,0.8,1,1.2,1.4,1.6,1.8,2],"labels":false,"title":null}}}},
    {"data":{"name":"lab"},"mark":{"type":"point","shape":"M-1.27,-1H1.27V1H-1.27Z","size":100,"filled":true,"fill":"#fff","stroke":"#888","strokeWidth":1,"opacity":1},"encoding":{"x":{"field":"x","type":"quantitative","axis":null},"y":{"field":"y","type":"quantitative","axis":null}}},
    {"data":{"name":"lab"},"mark":{"type":"text","fontSize":8,"color":"#222","baseline":"middle","align":"center"},"encoding":{"x":{"field":"x","type":"quantitative","axis":null},"y":{"field":"y","type":"quantitative","axis":null},"text":{"field":"t"}}}
   ]}
  ],"spacing":22.6}
 ],"spacing":12.5},
 {"hconcat":[
   {"width":183,"height":148,"title":{"text":"Mi"},"resolve":{"axis":{"x":"independent","y":"independent"}},"layer":[
    {"data":{"name":"hex"},"mark":{"type":"line","color":"#f27070","strokeWidth":1},"encoding":{"x":{"field":"x","type":"quantitative","scale":{"domain":[0,2.5],"nice":false,"zero":false},"axis":{"orient":"bottom","values":[0,0.5,1,1.5,2,2.5],"format":"~g","title":"x"}},"y":{"field":"y","type":"quantitative","scale":{"domain":[0,2],"nice":false,"zero":false},"axis":{"orient":"left","values":[0,0.2,0.4,0.6,0.8,1,1.2,1.4,1.6,1.8,2],"format":"~g","title":"y"}},"order":{"field":"i"}}},
    {"data":{"name":"mi"},"mark":{"type":"point","shape":"circle","filled":true,"size":1.6,"color":"#222","opacity":1},"encoding":{"x":{"field":"x","type":"quantitative","axis":{"orient":"top","values":[0,0.5,1,1.5,2,2.5],"labels":false,"title":null}},"y":{"field":"y","type":"quantitative","axis":{"orient":"right","values":[0,0.2,0.4,0.6,0.8,1,1.2,1.4,1.6,1.8,2],"labels":false,"title":null}}}},
    {"data":{"name":"lab"},"mark":{"type":"point","shape":"M-1.27,-1H1.27V1H-1.27Z","size":100,"filled":true,"fill":"#fff","stroke":"#888","strokeWidth":1,"opacity":1},"encoding":{"x":{"field":"x","type":"quantitative","axis":null},"y":{"field":"y","type":"quantitative","axis":null}}},
    {"data":{"name":"lab"},"mark":{"type":"text","fontSize":8,"color":"#222","baseline":"middle","align":"center"},"encoding":{"x":{"field":"x","type":"quantitative","axis":null},"y":{"field":"y","type":"quantitative","axis":null},"text":{"field":"t"}}}
   ]},
   {"width":183,"height":148,"title":{"text":"Se"},"resolve":{"axis":{"x":"independent","y":"independent"}},"layer":[
    {"data":{"name":"hex"},"mark":{"type":"line","color":"#f27070","strokeWidth":1},"encoding":{"x":{"field":"x","type":"quantitative","scale":{"domain":[0,2.5],"nice":false,"zero":false},"axis":{"orient":"bottom","values":[0,0.5,1,1.5,2,2.5],"format":"~g","title":"x"}},"y":{"field":"y","type":"quantitative","scale":{"domain":[0,2],"nice":false,"zero":false},"axis":{"orient":"left","values":[0,0.2,0.4,0.6,0.8,1,1.2,1.4,1.6,1.8,2],"format":"~g","title":"y"}},"order":{"field":"i"}}},
    {"data":{"name":"se"},"mark":{"type":"point","shape":"circle","filled":true,"size":1.6,"color":"#222","opacity":1},"encoding":{"x":{"field":"x","type":"quantitative","axis":{"orient":"top","values":[0,0.5,1,1.5,2,2.5],"labels":false,"title":null}},"y":{"field":"y","type":"quantitative","axis":{"orient":"right","values":[0,0.2,0.4,0.6,0.8,1,1.2,1.4,1.6,1.8,2],"labels":false,"title":null}}}},
    {"data":{"name":"lab"},"mark":{"type":"point","shape":"M-1.27,-1H1.27V1H-1.27Z","size":100,"filled":true,"fill":"#fff","stroke":"#888","strokeWidth":1,"opacity":1},"encoding":{"x":{"field":"x","type":"quantitative","axis":null},"y":{"field":"y","type":"quantitative","axis":null}}},
    {"data":{"name":"lab"},"mark":{"type":"text","fontSize":8,"color":"#222","baseline":"middle","align":"center"},"encoding":{"x":{"field":"x","type":"quantitative","axis":null},"y":{"field":"y","type":"quantitative","axis":null},"text":{"field":"t"}}}
   ]}
 ],"spacing":22.6}
],"spacing":29
}
